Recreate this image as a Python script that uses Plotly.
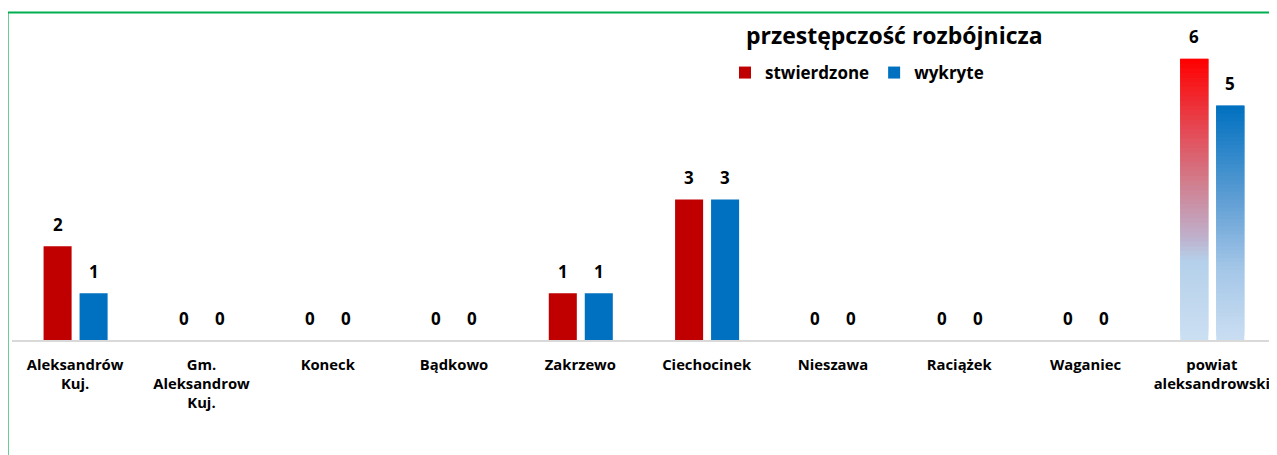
import plotly.graph_objects as go

categories = ["Aleksandrów Kuj.", "Gm. Aleksandrow Kuj.", "Koneck", "Bądkowo", "Zakrzewo",
              "Ciechocinek", "Nieszawa", "Raciążek", "Waganiec", "powiat aleksandrowski"]
tick_labels = ["Aleksandrów<br>Kuj.", "Gm.<br>Aleksandrow<br>Kuj.", "Koneck", "Bądkowo", "Zakrzewo",
               "Ciechocinek", "Nieszawa", "Raciążek", "Waganiec", "powiat<br>aleksandrowski"]
stwierdzone = [2, 0, 0, 0, 1, 3, 0, 0, 0, 6]
wykryte = [1, 0, 0, 0, 1, 3, 0, 0, 0, 5]

title_text = "przestępczość rozbójnicza"
FONT = "Open Sans"
RED = "#C00000"
BLUE = "#0070C0"
W = 0.222
OFF_RED = -0.25
OFF_BLUE = 0.035
N_SEG = 60

red_grad = [(0.0, (204, 223, 242)), (0.28, (180, 208, 234)), (0.37, (192, 175, 203)),
            (0.55, (208, 128, 144)), (0.78, (232, 64, 74)), (1.0, (255, 0, 0))]
blue_grad = [(0.0, (202, 222, 242)), (0.3, (165, 199, 232)), (0.6, (95, 158, 212)),
             (1.0, (0, 112, 192))]


def interp(stops, t):
    for (a, ca), (b, cb) in zip(stops[:-1], stops[1:]):
        if a <= t <= b:
            f = (t - a) / (b - a) if b > a else 0
            c = [round(ca[i] + (cb[i] - ca[i]) * f) for i in range(3)]
            return "rgb(%d,%d,%d)" % tuple(c)
    return "rgb(%d,%d,%d)" % stops[-1][1]


# page body has an 8px margin; figure sized to fit the window
FIG_W, FIG_H = 1269, 447
ML, MR, MT, MB = 4, 2, 4, 115
PW = FIG_W - ML - MR
PH = FIG_H - MT - MB
X0, Y0 = 8 + ML, 8 + MT  # plot area origin in window pixels
CAT_PX = PW / len(categories)


def px_x(x):
    return (x - X0) / PW


def px_y(y):
    return 1 - (y - Y0) / PH


fig = go.Figure()

n = len(categories)
red_colors = [RED] * (n - 1) + ["rgba(0,0,0,0)"]
blue_colors = [BLUE] * (n - 1) + ["rgba(0,0,0,0)"]

fig.add_trace(go.Bar(x=categories, y=stwierdzone, name="stwierdzone", offset=OFF_RED, width=W,
                     marker=dict(color=red_colors, line=dict(width=0))))
fig.add_trace(go.Bar(x=categories, y=wykryte, name="wykryte", offset=OFF_BLUE, width=W,
                     marker=dict(color=blue_colors, line=dict(width=0))))

# gradient bars for the last category (total), overlapping segments to avoid seams
for vals, off, stops in [(stwierdzone, OFF_RED, red_grad), (wykryte, OFF_BLUE, blue_grad)]:
    v = vals[-1]
    seg = v / N_SEG
    fig.add_trace(go.Bar(
        x=[categories[-1]] * N_SEG,
        y=[min(3 * seg, v - i * seg) for i in range(N_SEG)],
        base=[i * seg for i in range(N_SEG)],
        offset=off, width=W, showlegend=False, hoverinfo="skip",
        marker=dict(color=[interp(stops, (i + 0.5) / N_SEG) for i in range(N_SEG)], line=dict(width=0))))

# value labels
for vals, off in [(stwierdzone, OFF_RED), (wykryte, OFF_BLUE)]:
    for c, v in zip(categories, vals):
        fig.add_annotation(x=c, y=v, xref="x", yref="y", text="<b>%d</b>" % v, showarrow=False,
                           xshift=(off + W / 2) * CAT_PX, yshift=22, yanchor="middle",
                           font=dict(family=FONT, size=17, color="#000000"))

fig.add_annotation(x=px_x(744), y=px_y(35), xref="paper", yref="paper",
                   text="<b>" + title_text + "</b>", showarrow=False, xanchor="left", yanchor="middle",
                   font=dict(family=FONT, size=23, color="#000000"))

fig.add_shape(type="path", xref="paper", yref="paper",
              path="M %f,-0.6 L %f,%f L 1.05,%f" % (px_x(7.5), px_x(7.5), px_y(12.5), px_y(12.5)),
              line=dict(color="#00B050", width=2.2))

fig.update_layout(
    width=FIG_W, height=FIG_H,
    margin=dict(l=ML, r=MR, t=MT, b=MB),
    barmode="overlay",
    paper_bgcolor="white", plot_bgcolor="white",
    font=dict(family=FONT, color="#000000"),
    showlegend=True,
    legend=dict(orientation="h", x=px_x(725), y=px_y(55), xanchor="left", yanchor="top",
                font=dict(family=FONT, size=17, color="#000000", weight="bold"),
                itemwidth=30, bgcolor="rgba(0,0,0,0)", traceorder="normal"),
    xaxis=dict(type="category", tickvals=categories, ticktext=["<b>" + t + "</b>" for t in tick_labels],
               tickfont=dict(family=FONT, size=14.8, color="#000000"), showline=True,
               linecolor="#D9D9D9", linewidth=1.5, showgrid=False, ticks="", ticklabelstandoff=10,
               range=[-0.5, n - 0.5], fixedrange=True),
    yaxis=dict(range=[0, 7], visible=False, showgrid=False, zeroline=False, fixedrange=True),
)

fig.write_html("out.html")
